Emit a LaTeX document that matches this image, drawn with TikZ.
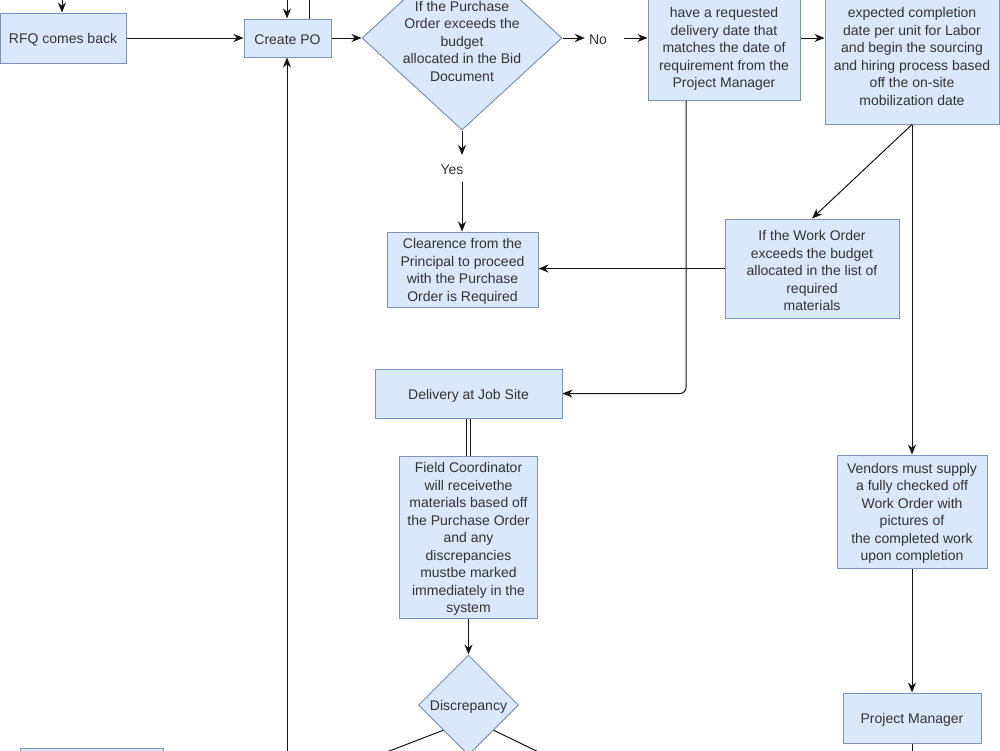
\documentclass[tikz,border=0pt]{standalone}
\usepackage{fontspec}
\setmainfont{Liberation Sans}
\usetikzlibrary{shapes.geometric,arrows.meta}
\definecolor{boxfill}{HTML}{DAE8FC}
\definecolor{boxline}{RGB}{125,148,180}
\definecolor{txtcol}{RGB}{50,50,50}
\definecolor{linecol}{RGB}{20,20,20}
\begin{document}
\begin{tikzpicture}[x=1pt,y=-1pt,
 txt/.style={text=txtcol, font=\fontsize{14}{17.5}\selectfont, align=center, inner sep=0pt},
 box/.style={draw=boxline, fill=boxfill, line width=1pt, inner sep=0pt, rectangle},
 dia/.style={box, diamond},
 t/.style={label={[txt, yshift=-2pt]center:{#1}}},
 arr/.style={-{Stealth[length=10pt,width=8pt]}, line width=1pt, draw=linecol},
 ln/.style={line width=1pt, draw=linecol},
 dbl/.style={draw=linecol, double=white, double distance=3pt, line width=0.9pt}]
\useasboundingbox (0,0) rectangle (1000,750);
\clip (0,0) rectangle (1000,750);
% nodes
\node[box, minimum width=126pt, minimum height=50pt, t={RFQ comes back}] (rfq) at (63,38) {};
\node[box, minimum width=87pt, minimum height=38pt, t={Create PO}] (po) at (287.5,38) {};
\node[dia, minimum width=200pt, minimum height=184pt] (dec) at (462,38) {};
\node[txt] (dectxt) at (462,41) {If the Purchase\\Order exceeds the\\budget\\allocated in the Bid\\Document};
\node[txt] (no) at (598,40) {No};
\node[txt] (yes) at (452,170) {Yes};
\node[box, minimum width=152pt, minimum height=140pt] (req) at (724,30) {};
\node[txt] (reqtxt) at (724,49) {have a requested\\delivery date that\\matches the date of\\requirement from the\\Project Manager};
\node[box, minimum width=174pt, minimum height=164pt] (labor) at (912,42) {};
\node[txt] (labortxt) at (912,56.5) {expected completion\\date per unit for Labor\\and begin the sourcing\\and hiring process based\\off the on-site\\mobilization date};
\node[box, minimum width=174pt, minimum height=99pt, t={If the Work Order\\exceeds the budget\\allocated in the list of\\required\\materials}] (wo) at (812,268.5) {};
\node[box, minimum width=151pt, minimum height=75pt, t={Clearence from the\\Principal to proceed\\with the Purchase\\Order is Required}] (clr) at (462.5,269.5) {};
\node[box, minimum width=187pt, minimum height=49pt, t={Delivery at Job Site}] (del) at (468.5,393.5) {};
\node[box, minimum width=138pt, minimum height=162pt, t={Field Coordinator\\will receivethe\\materials based off\\the Purchase Order\\and any\\discrepancies\\mustbe marked\\immediately in the\\system}] (fc) at (468.5,537) {};
\node[dia, minimum width=100pt, minimum height=100pt, t={Discrepancy}] (disc) at (468.5,705) {};
\node[box, minimum width=150pt, minimum height=113pt, t={Vendors must supply\\a fully checked off\\Work Order with\\pictures of\\the completed work\\upon completion}] (ven) at (912,511.5) {};
\node[box, minimum width=138pt, minimum height=50pt, t={Project Manager}] (pm) at (912,718) {};
\node[box, minimum width=143pt, minimum height=60pt] (bl) at (91.5,778) {};
% free ends
\coordinate (rfqin) at (62,-10);
\coordinate (poin) at (287,-10);
\coordinate (podbl) at (311,-10);
\coordinate (poup) at (287,760);
\coordinate (yesa) at (462,155);
\coordinate (yesb) at (462,182);
\coordinate (rq) at (686,0);
\coordinate (dl) at (366,760);
\coordinate (dr) at (555,760);
\coordinate (pmout) at (912,760);
% connectors
\draw[arr] (rfqin) -- (rfq.north -| rfqin);
\draw[arr] (poin) -- (po.north -| poin);
\draw[dbl] (po.north -| podbl) -- (podbl);
\draw[arr] (poup) -- (po.south -| poup);
\draw[arr] (rfq.east) -- (po.west);
\draw[arr] (po.east) -- (dec.west);
\draw[arr, shorten >=4pt] (dec.east) -- (no.west |- dec.east);
\draw[arr, shorten <=17pt] (no.east |- dec.east) -- (req.west |- dec.east);
\draw[arr] (dec.south) -- (yesa);
\draw[arr] (yesb) -- (clr.north -| yesb);
\draw[arr] (req.east |- dec.east) -- (labor.west |- dec.east);
\draw[arr] (labor.south) -- (wo.north);
\draw[arr] (labor.south) -- (ven.north);
\draw[arr] (wo.west) -- (clr.east |- wo.west);
\draw[arr, rounded corners=6pt] (req.south -| rq) |- (del.east);
\draw[dbl] (del.south) -- (fc.north);
\draw[arr] (fc.south) -- (disc.north);
\draw[ln] (disc.south west) -- (dl);
\draw[ln] (disc.south east) -- (dr);
\draw[arr] (ven.south) -- (pm.north);
\draw[ln] (pm.south) -- (pmout);
\end{tikzpicture}
\end{document}
